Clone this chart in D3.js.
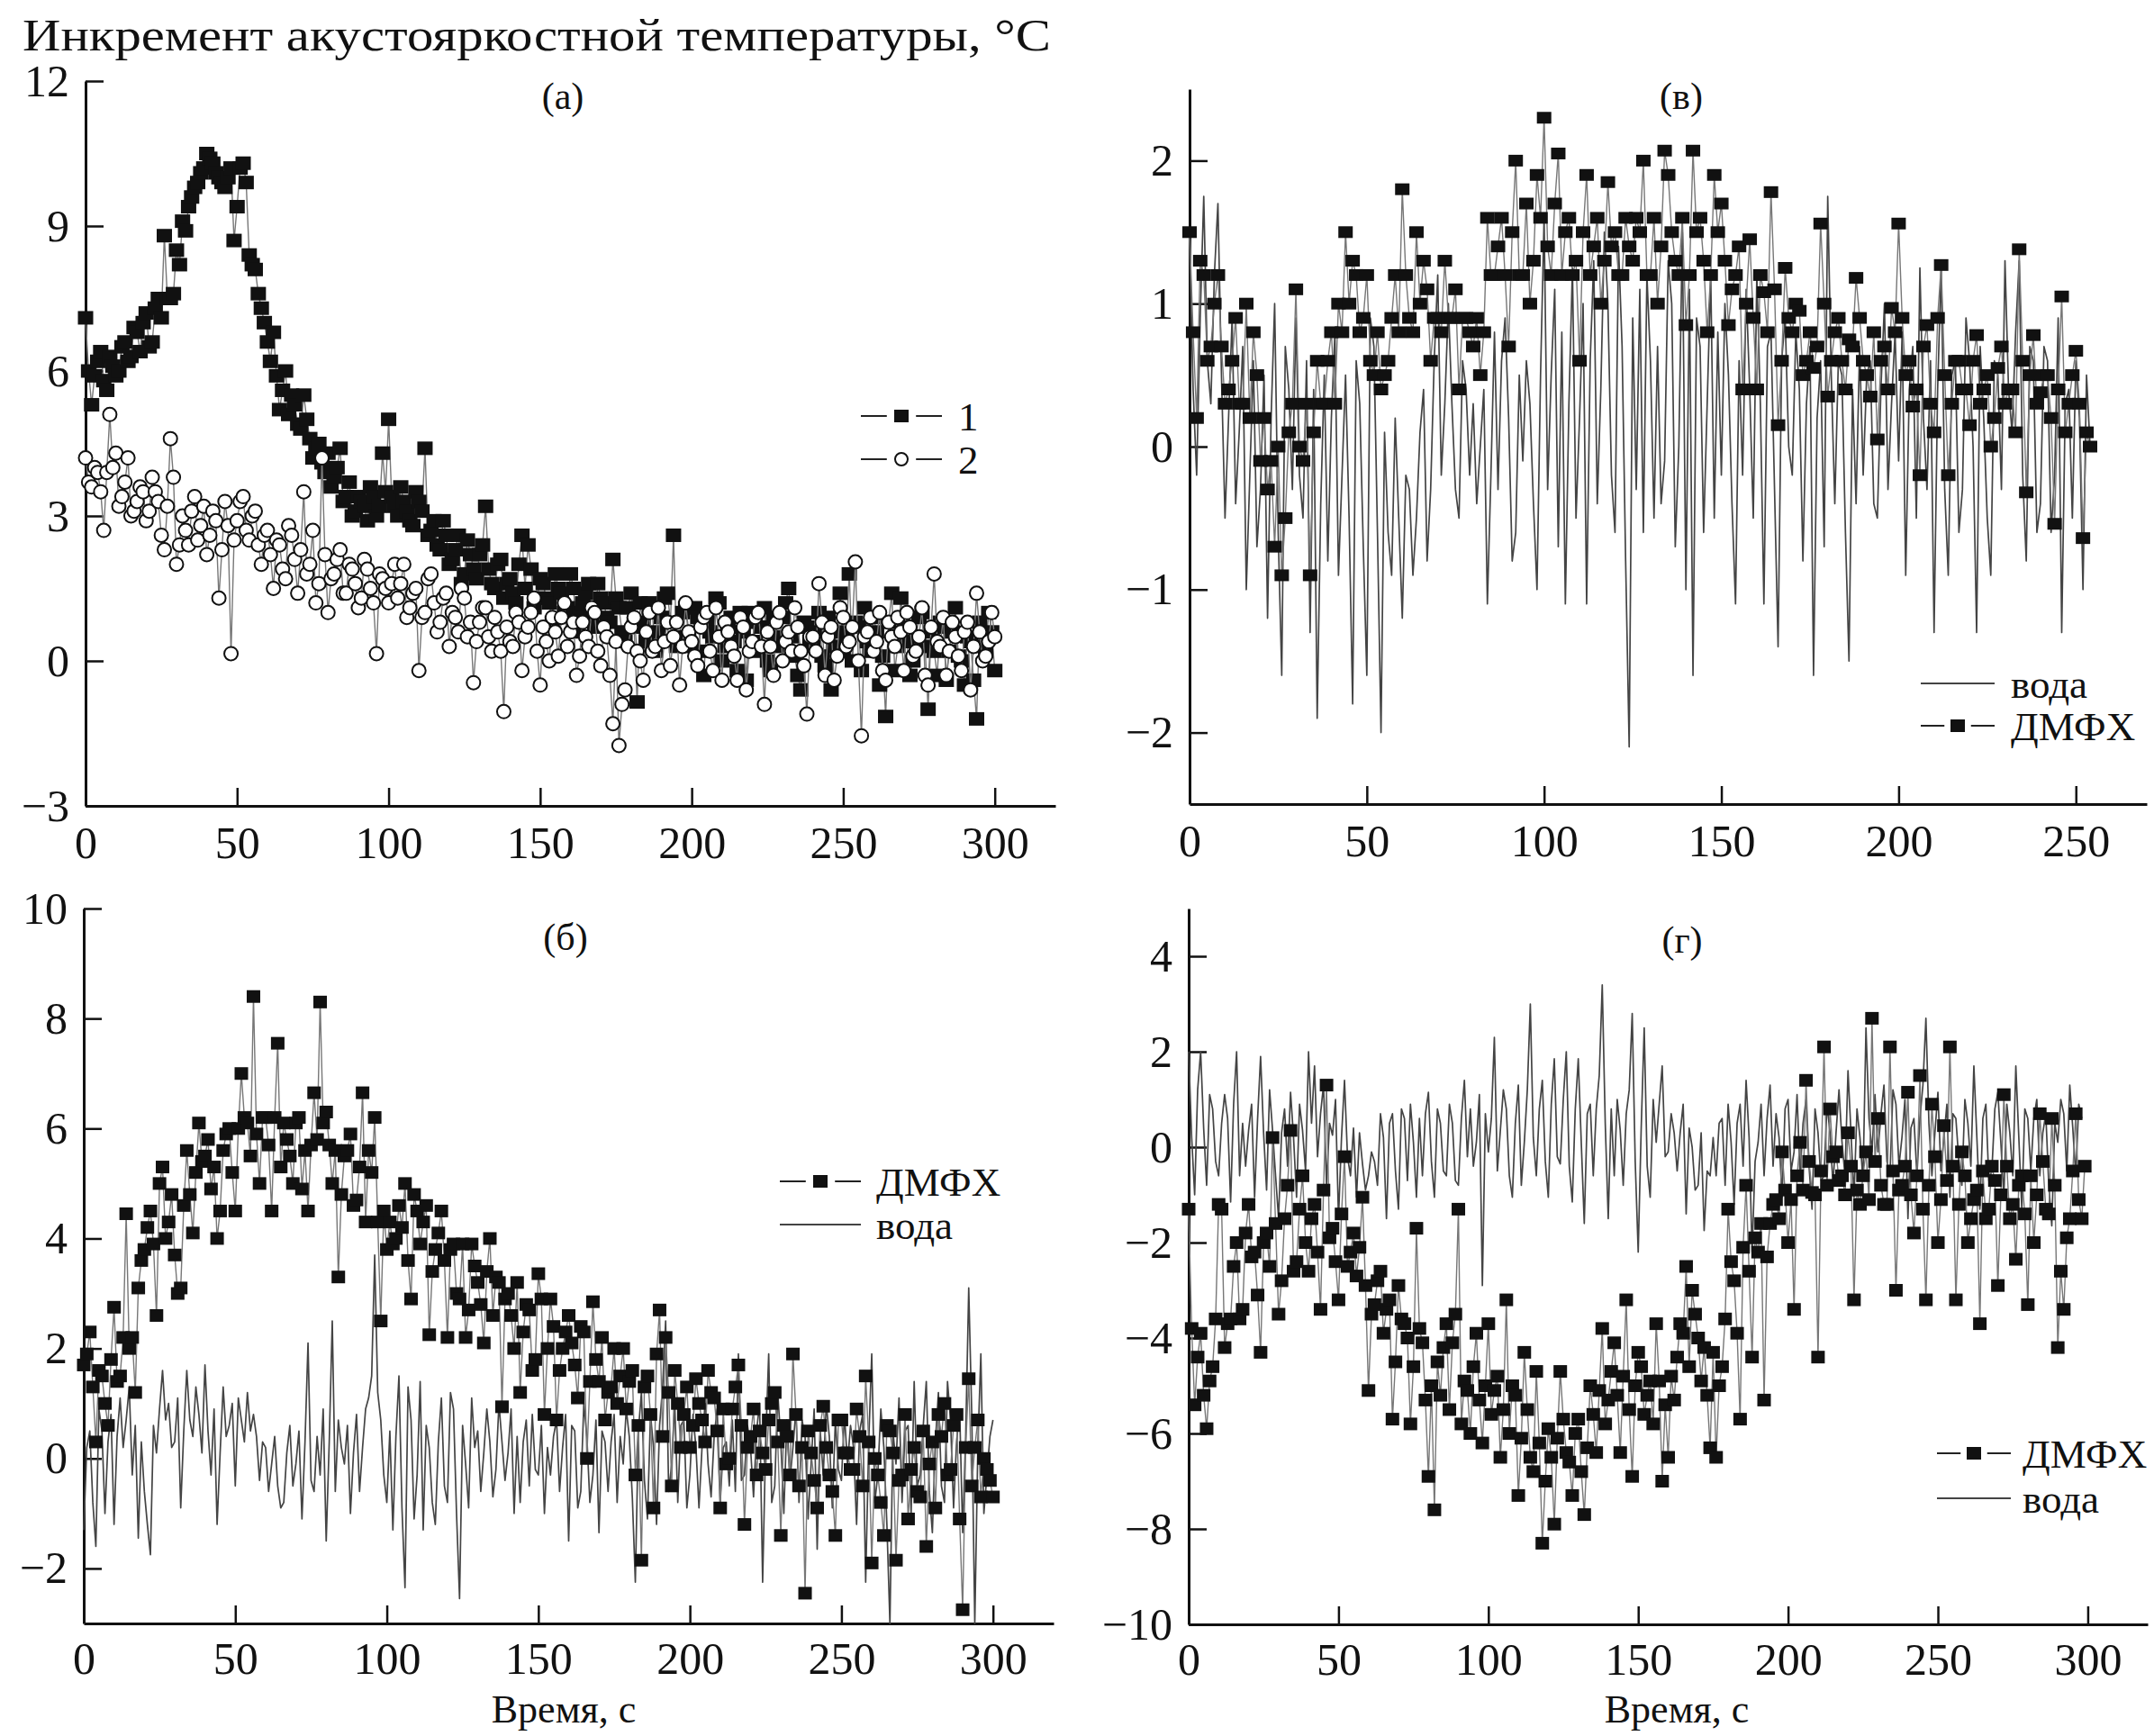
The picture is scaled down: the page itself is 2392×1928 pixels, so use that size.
<!DOCTYPE html>
<html lang="ru">
<head>
<meta charset="utf-8">
<title>Инкремент акустояркостной температуры</title>
<script src="https://cdn.jsdelivr.net/npm/d3@7"></script>
<style>
  body { margin: 0; background: #fff; }
  svg { display: block; font-family: "Liberation Serif", "DejaVu Serif", serif; }
  .domain { stroke: #111; stroke-width: 3; }
  .tick line { stroke: #111; stroke-width: 2.5; }
  .tick text { font-family: "Liberation Serif", "DejaVu Serif", serif; font-size: 50px; fill: #111; }
</style>
</head>
<body>
<div id="d3-container"></div>
<script>
/* CONSTANTS AND GLOBALS */
const width = 2392,
  height = 1928,
  dt = 2; // series at 2 s steps (even + odd seconds)

/* DATA */
// (а) curve 1, filled squares, even seconds t = 0..300
const aCurve1 = [
  7.1, 5.3, 6.2, 5.8, 6.3, 5.9, 6.5, 6.2, 6.9, 6.4,
  7.2, 6.6, 7.5, 8.8, 7.5, 8.5, 9.1, 9.4, 9.8, 10.1,
  10.5, 10.3, 10.0, 9.8, 10.2, 9.4, 10.3, 8.4, 8.1, 7.3,
  6.6, 6.8, 5.2, 6.0, 5.5, 4.9, 5.5, 4.6, 4.4, 4.1,
  4.3, 3.8, 4.4, 3.4, 3.0, 3.4, 3.2, 3.6, 3.0, 4.3,
  5.0, 3.2, 3.6, 3.1, 2.8, 3.3, 4.4, 2.7, 2.4, 2.9,
  2.0, 2.3, 1.6, 2.5, 1.9, 2.2, 3.2, 1.6, 2.0, 1.3,
  1.7, 1.2, 2.6, 2.4, 1.1, 1.7, 1.3, 0.8, 1.5, 1.0,
  1.8, 0.6, 1.2, 1.6, 0.7, 1.3, 0.9, 2.1, 1.1, 0.4,
  1.4, -0.85, 0.8, 1.2, 0.2, 0.9, 1.4, 2.6, 0.5, 1.1,
  0.3, 0.9, -0.3, 0.6, 1.3, 0.0, 0.7, 0.4, 1.0, -0.4,
  0.8, 0.2, 1.1, -0.2, 0.5, 0.9, 1.5, 0.1, -0.6, 0.7,
  0.3, 1.0, -0.1, -0.6, 0.6, 0.2, 1.8, 0.8, -0.2, 0.4,
  0.9, -0.5, -1.15, 1.4, 0.3, 0.7, -0.3, 0.5, 1.0, -1.0,
  0.2, 0.8, -0.4, 0.6, 0.1, -0.5, 0.4, -1.2, 0.3, 1.0,
  -0.2
];
// (а) curve 1, odd seconds t = 1..299
const aCurve1Odd = [
  6.0, 5.9, 6.4, 5.6, 6.1, 6.0, 6.6, 6.3, 6.8, 7.0,
  6.5, 7.3, 7.1, 7.5, 7.6, 8.2, 8.9, 9.6, 9.9, 10.2,
  10.4, 10.1, 9.9, 10.0, 8.7, 10.2, 9.9, 8.2, 7.6, 7.0,
  6.2, 5.9, 5.6, 5.1, 5.3, 4.8, 5.0, 4.2, 4.5, 3.9,
  3.6, 4.0, 3.3, 3.7, 3.1, 3.3, 2.9, 3.4, 3.2, 3.5,
  3.4, 3.0, 3.3, 2.9, 3.5, 3.1, 2.6, 2.9, 2.3, 2.6,
  2.1, 2.6, 1.8, 2.2, 1.7, 2.4, 1.9, 1.5, 2.1, 1.6,
  1.4, 2.0, 1.5, 1.9, 1.3, 1.6, 1.2, 1.8, 1.4, 1.1,
  1.5, 1.0, 1.4, 0.9, 1.6, 1.2, 0.8, 1.3, 0.6, 1.1,
  0.7, 1.2, 0.4, 1.0, 0.6, 1.3, 0.8, 0.3, 1.0, 0.5,
  1.1, 0.2, 0.8, 0.5, 1.2, 0.3, 0.9, -0.2, 0.6, 1.0,
  0.4, 0.7, 0.0, 0.9, 0.3, 1.2, 0.5, -0.3, 0.8, 0.4,
  0.6, 0.1, 0.9, 0.3, 1.4, 0.5, 0.0, 0.7, 1.1, 0.2,
  0.6, 0.1, 0.8, -0.2, 1.3, 0.4, 0.0, 0.9, 0.3, 0.6,
  -0.3, 0.7, 0.2, 1.1, 0.0, 0.5, -0.4, 0.8, 0.2, 0.6
];
// (а) curve 2, open circles, even seconds t = 0..300
const aCurve2 = [
  4.2, 3.6, 3.9, 2.7, 5.1, 4.3, 3.4, 4.2, 3.1, 3.6,
  2.9, 3.8, 3.3, 2.3, 4.6, 2.0, 3.0, 2.4, 3.4, 2.8,
  2.2, 3.1, 1.3, 3.3, 0.15, 2.9, 3.4, 2.5, 3.1, 2.0,
  2.7, 1.5, 2.4, 1.7, 2.6, 1.4, 3.5, 2.0, 1.2, 4.2,
  1.0, 1.8, 2.3, 1.4, 1.9, 1.1, 2.1, 1.5, 0.15, 1.7,
  1.2, 2.0, 1.6, 0.9, 1.4, -0.2, 1.0, 1.8, 0.6, 1.3,
  0.3, 0.9, 1.5, 0.5, -0.45, 0.8, 1.1, 0.2, 0.6, -1.05,
  0.4, 1.0, -0.2, 0.7, 1.3, -0.5, 0.4, 0.9, 0.1, 1.2,
  0.6, -0.3, 0.8, 0.3, 1.0, -0.1, 0.5, -1.3, -1.75, -0.6,
  0.7, 0.2, -0.4, 1.0, 0.3, -0.2, 0.8, 0.5, -0.5, 1.2,
  0.4, -0.1, 0.9, 0.2, 1.1, -0.4, 0.6, 0.1, 0.9, -0.6,
  0.4, 1.0, -0.9, 0.3, 0.8, 0.0, 0.6, 1.1, 0.2, -1.1,
  0.5, 1.6, -0.3, 0.7, 0.1, 0.9, 0.4, 2.05, -1.55, 0.6,
  0.2, 1.0, -0.4, 0.5, 0.9, -0.2, 0.7, 0.2, 1.1, -0.5,
  1.8, 0.3, -0.3, 0.8, 0.1, 0.6, -0.6, 1.4, 0.0, 0.4,
  0.5
];
// (а) curve 2, odd seconds t = 1..299
const aCurve2Odd = [
  3.7, 4.0, 3.5, 3.9, 4.0, 3.2, 3.7, 3.0, 3.3, 3.5,
  3.1, 3.5, 2.6, 3.2, 3.8, 2.4, 2.7, 3.1, 2.5, 3.2,
  2.6, 2.9, 2.3, 2.8, 2.5, 3.3, 2.7, 3.0, 2.4, 2.6,
  2.2, 2.5, 1.9, 2.8, 2.1, 2.3, 1.8, 2.7, 1.6, 2.2,
  1.7, 2.1, 1.4, 2.0, 1.6, 1.3, 1.9, 1.2, 1.8, 1.5,
  1.6, 1.3, 2.0, 1.1, 1.5, 0.9, 1.7, 1.2, 0.8, 1.4,
  1.0, 0.6, 1.3, 0.8, 0.4, 1.1, 0.5, 0.9, 0.2, 0.7,
  0.3, 0.8, 0.5, 1.0, 0.2, 0.7, 0.0, 0.6, 0.9, 0.3,
  0.8, 0.1, 0.5, 1.1, 0.2, 0.7, -0.3, 0.4, -0.9, 0.3,
  0.9, 0.0, 0.6, 0.2, 1.1, 0.4, -0.1, 0.8, 0.3, 0.6,
  0.1, 0.7, 1.0, -0.2, 0.5, 0.8, 0.3, -0.4, 0.7, 0.2,
  0.9, 0.3, 0.6, -0.3, 1.0, 0.4, 0.2, 0.7, -0.1, 0.5,
  0.2, 0.8, 0.5, -0.4, 1.1, 0.3, 0.7, 0.0, 0.5, 0.9,
  0.4, -0.2, 0.8, 0.3, 0.6, 1.0, 0.1, 0.5, -0.3, 0.7,
  0.4, 0.9, 0.2, 0.5, -0.2, 0.8, 0.3, 0.6, 0.1, 1.0
];
// (б) ДМФХ, even seconds t = 0..300
const bDmfx = [
  1.7, 2.3, 0.3, 1.5, 0.6, 2.75, 1.5, 4.45, 2.2, 3.1,
  3.8, 4.5, 2.6, 5.3, 4.3, 3.7, 3.1, 5.6, 4.1, 6.1,
  5.5, 4.9, 4.0, 5.6, 6.0, 4.5, 7.0, 6.1, 8.4, 5.0,
  6.2, 4.5, 7.55, 6.1, 5.5, 6.1, 4.9, 4.5, 6.65, 8.3,
  6.3, 5.0, 3.3, 5.5, 5.9, 4.7, 6.65, 5.6, 6.2, 2.5,
  3.8, 3.9, 4.6, 5.0, 2.9, 4.5, 4.3, 2.25, 3.8, 4.5,
  2.2, 3.9, 2.9, 2.2, 3.9, 3.2, 2.1, 4.0, 3.3, 0.94,
  3.0, 2.0, 1.2, 2.8, 1.6, 3.36, 0.8, 2.9, 0.7, 2.0,
  2.6, 1.7, 2.4, 0.0, 2.85, 1.4, 0.7, 1.3, 1.0, 2.0,
  1.4, -0.3, -1.85, 1.5, -0.9, 2.7, 2.2, -0.5, 1.0, 0.8,
  0.2, 1.45, 0.7, 1.6, 1.1, -0.9, -0.1, 0.9, 1.7, -1.2,
  0.4, -0.3, 0.1, 0.7, 1.2, -1.4, 0.4, 1.9, -0.5, -2.45,
  0.1, -0.9, 0.95, -0.3, -1.4, 0.7, 0.1, -0.2, 0.4, 1.5,
  -1.9, -0.3, -1.4, 0.5, -1.85, -0.3, -1.1, 0.2, -0.7, -1.6,
  0.3, 0.8, 1.0, -0.2, 0.8, -2.75, 1.45, 0.2, -0.7, -0.2,
  -0.7
];
// (б) ДМФХ, odd seconds t = 1..299
const bDmfxOdd = [
  1.9, 1.3, 1.6, 1.0, 1.8, 1.4, 2.2, 2.0, 1.2, 3.6,
  4.2, 3.9, 5.0, 4.0, 4.8, 3.0, 4.6, 4.8, 5.2, 5.4,
  5.8, 5.3, 4.5, 5.9, 5.2, 6.0, 6.2, 5.5, 5.9, 6.2,
  5.7, 6.2, 5.3, 5.8, 5.0, 6.2, 5.6, 5.7, 5.8, 6.1,
  5.7, 5.6, 4.8, 5.6, 4.6, 5.3, 4.3, 5.2, 4.3, 4.5,
  4.3, 4.0, 4.2, 3.6, 4.8, 3.9, 4.6, 3.4, 4.1, 3.6,
  3.8, 3.0, 3.9, 2.7, 3.5, 2.8, 3.4, 2.6, 3.2, 2.9,
  2.6, 3.2, 2.3, 2.7, 1.8, 2.9, 2.0, 2.4, 1.6, 2.3,
  2.1, 1.1, 2.3, 1.4, 1.8, 2.2, 1.2, 2.0, 1.5, 0.9,
  1.6, 0.6, 1.3, 0.8, 1.9, 0.4, 1.2, 1.6, 0.2, 1.3,
  0.6, 1.0, 0.3, 1.2, 0.5, 0.9, 0.0, 1.3, 0.6, 0.2,
  0.9, 0.5, -0.2, 1.0, 0.3, 0.6, -0.3, 0.8, 0.2, 0.5,
  -0.4, 0.6, 0.2, -0.6, 0.7, 0.1, -0.2, 0.9, -0.5, 0.3,
  0.0, -0.8, 0.6, 0.1, -0.4, 0.8, -0.2, -0.6, 0.5, -0.1,
  -0.9, 0.4, -0.3, 0.6, -1.1, 0.2, -0.5, 0.7, 0.0, -0.4
];
// (б) вода, even seconds t = 0..300
const bWater = [
  -1.3, 0.5, -1.6, 0.5, 0.3, -1.2, 1.1, 0.7, -0.3, -1.45,
  -0.6, -1.75, 0.1, 1.6, 1.0, 0.3, -0.9, 1.6, 0.4, 0.8,
  1.7, -0.3, -1.2, 1.3, 0.6, -0.5, 0.7, 1.2, 0.8, -0.4,
  0.2, -0.1, -0.5, -0.8, 0.6, -0.1, -1.1, 2.1, -0.6, -0.3,
  -1.5, 2.5, 0.7, -0.1, -1.0, 0.8, 0.2, 1.1, 3.7, 0.7,
  -0.8, -1.3, 1.5, -2.35, 0.7, -0.3, -1.3, 0.2, -1.2, 1.1,
  -0.8, 0.9, -2.55, -0.1, 1.1, 0.5, 0.1, 0.3, -0.2, 0.3,
  0.1, -1.0, -0.8, 0.7, 0.8, -0.3, -1.0, -0.3, 0.7, 0.2,
  -1.5, 0.5, -0.6, 0.4, -0.3, -1.35, 0.3, 0.3, -0.8, -0.1,
  0.4, -2.25, 1.2, -1.1, 0.2, 0.6, 2.5, -0.1, -0.8, 0.7,
  -0.3, 0.2, 0.2, -0.1, 0.4, -0.8, 0.3, 0.7, 1.9, -0.3,
  0.2, 0.5, -2.25, 1.9, -0.5, 0.3, 0.7, 0.2, -0.8, 0.4,
  -0.1, -1.65, -0.3, 0.4, 0.7, -0.4, -0.1, 0.2, 0.5, -2.25,
  1.9, -0.3, 0.2, -3.0, -0.1, -0.8, 0.6, 1.4, -0.3, 1.4,
  -1.35, 1.2, -0.8, 0.7, 0.3, -1.35, 3.1, -3.0, 1.9, -0.3,
  0.7
];
// (б) вода, odd seconds t = 1..299
const bWaterOdd = [
  0.2, -0.8, 0.9, -1.0, 0.8, 0.4, 0.2, 1.3, 0.6, 0.3,
  -1.2, 0.6, 0.9, 0.7, 0.2, 1.1, 0.5, 0.7, 1.3, 0.1,
  0.5, 0.9, 0.1, 0.4, 1.0, 1.1, 0.3, 0.5, 0.4, 0.3,
  -0.6, 0.4, -0.9, 0.1, -0.5, 0.5, 0.3, -0.4, 0.4, 0.9,
  0.3, -0.6, 0.2, 0.6, 0.1, -0.6, 0.9, 1.5, 1.2, -0.3,
  0.5, 0.4, -0.9, 1.3, -1.1, 1.4, 0.6, -0.8, 0.3, -0.5,
  1.2, -1.0, 0.6, -0.9, 0.2, -0.6, 0.9, -0.7, 1.0, -0.4,
  0.9, 0.4, 0.3, -0.5, -0.2, 0.6, 0.2, 0.4, -0.6, 0.8,
  0.6, -0.9, 1.0, -0.8, 0.7, 0.5, -0.6, 0.8, 0.4, 0.9,
  -0.7, 0.5, -0.4, 0.8, -1.2, 1.3, -0.6, 1.0, 0.6, -0.9,
  0.8, -0.9, 1.0, -0.7, 0.9, 0.2, -0.5, -0.6, -0.4, 0.6,
  -0.7, 1.0, 0.3, -0.8, 1.2, -1.0, -0.4, 0.9, 0.7, -1.1,
  0.9, 0.5, 1.0, -0.9, -0.2, 0.8, 0.6, -1.2, 0.8, 0.3,
  -0.8, 0.9, -1.2, 0.5, 1.1, 0.5, -1.0, -0.5, 0.6, -0.6,
  0.3, -0.5, 1.4, -0.9, 0.9, 0.4, 0.8, 0.2, -1.0, 0.4
];
// (в) ДМФХ, even seconds t = 0..254
const vDmfx = [
  1.5, 0.2, 1.2, 0.7, 1.2, 0.3, 0.6, 0.3, 1.0, 0.8,
  -0.1, -0.3, -0.7, -0.9, 0.1, 1.1, -0.1, -0.9, 0.6, 0.3,
  0.8, 1.0, 1.5, 1.3, 0.8, 1.2, 0.5, 0.4, 0.6, 1.2,
  1.8, 0.9, 1.5, 1.3, 0.6, 0.9, 1.3, 0.9, 0.4, 0.9,
  0.7, 0.5, 1.6, 1.2, 1.6, 0.7, 2.0, 1.2, 1.0, 1.9,
  2.3, 1.2, 2.05, 1.5, 1.2, 0.6, 1.9, 1.4, 1.0, 1.85,
  1.5, 1.2, 1.4, 1.6, 2.0, 1.2, 1.0, 2.07, 1.5, 1.2,
  0.85, 2.07, 1.6, 0.8, 1.9, 1.7, 0.85, 1.2, 0.4, 1.45,
  0.4, 1.08, 1.78, 0.15, 1.25, 0.8, 0.95, 0.6, 0.55, 1.56,
  0.35, 0.8, 0.6, 0.75, 1.18, 0.6, 0.35, 0.05, 0.7, 0.97,
  1.56, 0.5, 0.28, -0.2, 0.85, 0.1, 1.27, -0.2, 0.6, 0.4,
  0.15, 0.78, 0.4, 0.0, 0.55, 0.3, 0.4, 1.38, -0.32, 0.78,
  0.38, 0.5, -0.54, 1.05, 0.3, 0.67, -0.64, 0.0
];
// (в) ДМФХ, odd seconds t = 1..253
const vDmfxOdd = [
  0.8, 1.3, 0.6, 1.0, 0.7, 0.4, 0.9, 0.3, 0.2, 0.5,
  0.2, -0.1, 0.0, -0.5, 0.3, 0.0, 0.3, 0.1, 0.3, 0.6,
  0.3, 0.8, 1.0, 1.2, 0.9, 0.6, 0.8, 0.5, 0.9, 0.8,
  1.2, 0.8, 1.0, 1.1, 0.9, 0.8, 0.9, 1.1, 0.9, 0.8,
  0.9, 0.8, 1.2, 1.4, 1.2, 1.5, 1.2, 1.7, 1.3, 1.6,
  1.4, 1.7, 1.2, 1.6, 1.3, 1.5, 1.2, 1.6, 1.3, 1.4,
  1.2, 1.6, 1.3, 1.5, 1.2, 1.6, 1.4, 1.9, 1.3, 1.6,
  1.2, 1.5, 1.3, 1.2, 1.5, 1.3, 1.1, 1.4, 1.0, 0.9,
  1.2, 0.8, 1.1, 0.6, 0.9, 1.0, 0.5, 0.8, 0.7, 1.0,
  0.6, 0.9, 0.4, 0.7, 0.9, 0.5, 0.8, 0.6, 0.4, 0.8,
  0.9, 0.6, 0.4, 0.7, 0.3, 0.9, 0.5, 0.3, 0.6, 0.4,
  0.6, 0.3, 0.5, 0.2, 0.7, 0.4, 0.1, 0.6, 0.5, 0.3,
  0.5, 0.2, 0.4, 0.1, 0.5, 0.3, 0.1
];
// (в) вода, even seconds t = 0..254
const vWater = [
  1.5, -0.2, 1.75, 0.3, 1.7, -0.5, 0.9, 0.1, -1.0, 0.6,
  -0.3, -1.2, 1.0, -1.6, 0.4, 0.9, -0.5, -1.3, -1.9, 0.5,
  0.2, -0.9, 0.5, -1.8, 0.3, -1.6, 0.7, -2.0, -0.6, 0.2,
  -1.2, -0.3, -0.5, 0.4, -0.3, 1.2, 0.3, 0.3, -0.5, 0.4,
  0.3, 0.0, -1.1, 0.8, 0.6, 0.2, -0.6, -0.1, 0.3, -1.0,
  1.6, 0.5, -0.7, -1.1, 1.25, 0.2, -1.1, 1.3, 0.4, 1.0,
  -0.6, 0.7, -2.1, -0.3, -0.6, 0.6, 0.7, -0.1, 1.0, 0.0,
  -1.0, -1.6, 0.7, 0.3, -0.5, -0.2, 0.5, -1.1, -0.2, 0.4,
  1.2, -1.1, 0.8, -1.4, 0.9, -0.2, 0.4, 0.3, -1.6, 0.6,
  1.75, -0.4, 0.5, -1.5, -0.4, -0.2, 0.6, -0.5, 1.0, 0.3,
  -0.1, -0.9, 0.7, 1.25, -0.3, -1.3, 1.25, -0.9, 0.6, -0.3,
  0.6, -1.3, 0.2, -0.9, 0.5, 1.3, 0.1, 1.3, -0.8, 0.6,
  -0.4, 0.6, -0.2, -1.3, 0.4, 0.6, -1.0, 0.0
];
// (в) вода, odd seconds t = 1..253
const vWaterOdd = [
  0.4, 0.9, 0.6, 1.2, 0.5, 0.2, -0.4, 0.7, -0.2, -0.7,
  0.5, 0.2, -0.6, 0.7, -0.3, -0.2, 0.6, 0.4, -0.4, -0.8,
  0.8, -0.2, -0.5, 0.6, -0.7, 0.9, -0.6, 0.1, -0.9, -0.5,
  -0.2, -0.9, 0.1, -0.8, 0.6, -0.2, 1.0, -0.3, 0.6, -0.2,
  -0.4, 0.4, -0.2, -0.3, 0.9, -0.8, 0.5, 0.6, -0.4, 0.5,
  -0.3, 1.1, 0.8, 0.3, -0.5, 1.0, 0.6, -0.4, 1.5, -0.2,
  1.4, -0.8, 0.9, 1.1, 1.2, -0.5, -0.4, 1.3, -0.7, 1.5,
  1.1, 0.9, -0.6, 1.2, 0.8, 1.0, -0.4, 0.6, 1.1, -0.5,
  0.3, 0.7, -0.3, 0.6, 0.0, 0.8, -0.8, 0.7, 0.2, -0.7,
  0.5, 0.6, -0.6, 0.4, 0.7, 0.5, -0.4, 0.4, -0.3, 0.8,
  0.8, 0.4, -0.5, 0.2, 0.6, 0.4, -0.3, 0.5, -0.6, 0.9,
  0.0, 0.7, -0.5, 0.6, -0.3, 0.4, 0.8, -0.2, 0.7, -0.6,
  0.7, -0.6, 0.9, 0.3, -0.5, 0.2, 0.5
];
// (г) ДМФХ, even seconds t = 0..298
const gDmfx = [
  -1.3, -5.4, -3.9, -5.9, -4.6, -1.2, -4.2, -3.6, -2.0, -3.4,
  -1.2, -2.2, -4.3, -1.8, 0.2, -3.5, -1.5, 0.35, -2.4, -0.6,
  -2.6, -1.2, -3.4, 1.3, -1.7, -3.2, -0.2, -2.2, -2.7, -1.05,
  -5.1, -3.3, -2.6, -3.4, -5.7, -2.9, -3.7, -5.8, -1.7, -4.1,
  -6.9, -7.6, -5.2, -3.7, -4.1, -1.3, -4.9, -6.0, -3.9, -6.2,
  -3.7, -5.1, -6.5, -3.2, -5.0, -7.3, -4.3, -6.5, -4.7, -8.3,
  -5.9, -7.9, -4.7, -6.4, -7.3, -5.7, -7.7, -5.0, -6.4, -3.8,
  -5.3, -4.1, -6.4, -3.2, -6.9, -4.3, -5.6, -4.9, -3.7, -7.0,
  -6.5, -5.3, -3.7, -2.5, -3.0, -4.0, -4.2, -6.3, -6.5, -4.6,
  -1.3, -2.8, -5.7, -0.8, -4.4, -2.2, -5.3, -1.6, -1.1, -0.1,
  -2.0, -3.4, 0.1, 1.4, -0.95, -4.4, 2.1, 0.8, -0.1, -0.6,
  0.3, -3.2, -1.2, -0.1, 2.7, 0.6, -1.2, 2.1, -3.0, -0.8,
  1.15, -1.8, 1.5, -3.2, 0.9, -2.0, 0.45, 2.1, -3.2, -0.1,
  -2.0, -1.1, -3.7, -1.5, -0.4, -2.9, 1.1, -1.5, -2.35, -0.6,
  -3.3, -2.0, 0.7, -1.3, 0.6, -4.2, -3.4, -1.5, 0.7, -1.5
];
// (г) ДМФХ, odd seconds t = 1..299
const gDmfxOdd = [
  -3.8, -4.4, -5.2, -4.9, -3.6, -1.3, -3.7, -2.5, -3.6, -1.8,
  -2.3, -3.1, -2.0, -2.5, -1.6, -2.8, -0.8, -2.6, -1.3, -2.0,
  -1.5, -2.2, -0.9, -1.9, -2.4, -1.4, -2.5, -1.8, -2.1, -2.9,
  -3.5, -2.8, -3.9, -3.2, -4.5, -3.6, -4.0, -4.6, -3.8, -5.3,
  -5.0, -4.5, -4.2, -5.5, -3.5, -5.8, -5.1, -4.6, -5.3, -5.0,
  -5.6, -4.8, -5.5, -6.0, -5.2, -6.1, -5.5, -6.8, -6.2, -7.0,
  -6.5, -6.1, -5.7, -6.6, -6.0, -6.8, -6.3, -5.6, -5.1, -5.8,
  -4.7, -5.2, -4.8, -5.5, -5.0, -4.6, -5.2, -5.8, -4.9, -5.4,
  -4.8, -4.4, -3.9, -4.6, -3.5, -4.9, -5.2, -4.3, -5.0, -3.6,
  -2.4, -3.9, -2.1, -2.6, -1.9, -1.6, -2.3, -1.2, -1.5, -0.9,
  -1.1, -0.6, -0.9, -0.3, -1.0, -0.5, -0.8, -0.2, -0.7, -1.0,
  -0.4, -0.9, -0.6, -1.1, -0.3, -0.8, -1.2, -0.5, -0.9, -0.4,
  -1.0, -0.6, -1.3, -0.8, -0.2, -1.1, -0.7, -0.4, -1.2, -0.6,
  -1.5, -0.9, -0.5, -1.3, -0.7, -1.0, -0.4, -1.2, -0.8, -1.4,
  -0.6, -1.0, -0.3, -1.4, -0.8, -2.6, -1.9, -0.5, -1.1, -0.4
];
// (г) вода, even seconds t = 0..298
const gWater = [
  2.0, -1.0, 2.0, -0.8, 0.8, -0.6, 1.1, -1.15, 2.0, 0.5,
  0.35, -1.05, 1.9, -0.9, 0.35, -1.5, 0.8, 1.15, -1.05, 0.35,
  2.0, 1.7, 0.7, -0.8, 0.25, -1.5, 1.4, -0.6, -1.05, -0.35,
  -0.6, -0.3, 0.7, -1.5, 0.7, -1.3, 0.6, 0.9, -1.05, -0.6,
  1.15, -1.05, 0.5, -0.6, 0.5, -0.8, 1.4, 0.8, 0.1, -2.9,
  -0.1, 2.3, 0.35, 0.8, -1.05, 1.3, 0.1, 3.0, -0.6, 1.4,
  -1.05, 1.85, -0.35, 2.0, -1.15, 1.85, -1.6, 0.9, 0.8, 3.4,
  -1.5, -0.6, 0.35, 0.7, 2.8, -2.2, 2.5, -1.05, 0.1, 1.7,
  -0.1, 0.3, 0.3, -1.4, 0.0, -0.8, -1.75, -0.6, -0.6, 0.6,
  0.9, -1.2, 0.9, 1.4, -2.2, 0.1, -0.6, 1.3, 0.7, -1.05,
  1.0, -0.1, -0.6, 1.0, -1.3, 0.3, -0.6, 0.3, 0.3, 0.1,
  1.6, -1.05, 0.2, 2.5, -0.1, -0.1, 1.3, -0.6, 0.9, 0.2,
  -1.5, 0.6, 0.6, 2.7, -0.6, 1.15, 0.2, -1.05, 0.6, -0.8,
  0.5, 1.7, -1.3, 0.9, -0.5, 1.15, -1.05, 0.3, 1.7, -1.3,
  0.6, 0.6, -0.6, 0.7, -1.65, 0.1, 0.7, 1.3, -0.6, 0.6
];
// (г) вода, odd seconds t = 1..297
const gWaterOdd = [
  0.2, 1.2, 0.4, 1.1, -0.3, 0.5, 0.6, 0.9, -0.6, -0.4,
  0.9, 0.6, 0.3, 1.2, -0.6, 0.3, -0.4, 0.2, 0.9, -0.5,
  0.5, -0.2, 1.3, 0.5, 1.0, 0.2, -0.2, 0.4, 0.3, -0.9,
  -0.1, -0.8, 0.2, 0.5, -0.5, 0.8, -0.7, 0.1, 0.6, 0.7,
  -0.3, 0.8, -0.5, 0.9, -0.7, 0.6, -0.2, -0.4, 1.1, 0.7,
  0.6, -0.5, 1.2, -0.6, 0.5, -0.8, 1.2, 0.2, 0.8, -0.3,
  0.9, -0.2, 1.0, -0.4, 0.8, 0.1, 0.7, -0.6, 1.5, 0.5,
  0.8, 1.0, -0.8, 1.2, -0.3, 0.4, -0.4, 1.0, 0.9, -0.2,
  0.7, -0.5, 0.9, 0.4, -0.9, 0.3, -0.5, 0.2, 0.5, -0.8,
  0.1, 0.5, -0.4, 0.2, -0.3, 0.9, 0.6, -0.4, 0.2, 0.8,
  -0.5, 1.1, 0.5, -0.4, 0.8, -0.7, 0.9, -0.8, 1.2, -0.6,
  0.3, 0.8, -0.7, 0.6, 1.1, 0.7, -0.3, 1.2, -0.4, 1.0,
  0.4, -0.6, 1.3, 0.5, 0.3, -0.5, 0.9, 0.7, -0.3, 1.0,
  -0.4, 0.2, 0.6, -0.7, 0.8, 0.1, 0.9, -0.6, 0.2, 0.8,
  -0.5, 1.0, 0.3, -0.8, 0.5, 1.0, -0.5, 0.4, 0.9
];

// tick labels
const xTicks300 = [0, 50, 100, 150, 200, 250, 300];
const xTicks250 = [0, 50, 100, 150, 200, 250];
const yTicksA = [-3, 0, 3, 6, 9, 12];
const yTicksB = [-2, 0, 2, 4, 6, 8, 10];
const yTicksV = [-2, -1, 0, 1, 2];
const yTicksG = [-10, -8, -6, -4, -2, 0, 2, 4];

// texts
const titleText = "Инкремент акустояркостной температуры, °C";
const xTitle = "Время, с";
const nameDmfx = "ДМФХ";
const nameWater = "вода";

/* LAYOUT */
const panels = [
  {
    label: "(а)", labelAt: [625, 121],
    xDomain: [0, 320], xRange: [95, 1172], yDomain: [-3, 12], yRange: [895, 90],
    xTicks: xTicks300, yTicks: yTicksA, xPad: 22, sq: [17, 15],
    series: [
      { values: aCurve1, odd: aCurve1Odd, type: "square" },
      { values: aCurve2, odd: aCurve2Odd, type: "circle" }],
    legend: { x: 956, textX: 1064, len: 90, rows: [
      { y: 462, type: "square", text: "1" },
      { y: 510, type: "circle", text: "2" }] }
  },
  {
    label: "(в)", labelAt: [1867, 121],
    xDomain: [0, 270], xRange: [1321, 2384], yDomain: [-2.5, 2.5], yRange: [893, 99],
    xTicks: xTicks250, yTicks: yTicksV, xPad: 22, sq: [16, 13],
    series: [
      { values: vWater, odd: vWaterOdd, type: "water" },
      { values: vDmfx, odd: vDmfxOdd, type: "square" }],
    legend: { x: 2133, textX: 2233, len: 82, rows: [
      { y: 759, type: "water", text: nameWater },
      { y: 806, type: "square", text: nameDmfx }] }
  },
  {
    label: "(б)", labelAt: [628, 1055],
    xDomain: [0, 320], xRange: [93, 1170], yDomain: [-3, 10], yRange: [1803, 1009],
    xTicks: xTicks300, yTicks: yTicksB, xPad: 20, xTitleAt: [626, 1913], sq: [15, 14],
    series: [
      { values: bWater, odd: bWaterOdd, type: "water" },
      { values: bDmfx, odd: bDmfxOdd, type: "square" }],
    legend: { x: 866, textX: 973, len: 90, rows: [
      { y: 1312, type: "square", text: nameDmfx },
      { y: 1360, type: "water", text: nameWater }] }
  },
  {
    label: "(г)", labelAt: [1868, 1058],
    xDomain: [0, 320], xRange: [1320, 2385], yDomain: [-10, 5], yRange: [1804, 1009],
    xTicks: xTicks300, yTicks: yTicksG, xPad: 20, xTitleAt: [1862, 1913], sq: [15, 14],
    series: [
      { values: gWater, odd: gWaterOdd, type: "water" },
      { values: gDmfx, odd: gDmfxOdd, type: "square" }],
    legend: { x: 2151, textX: 2246, len: 82, rows: [
      { y: 1614, type: "square", text: nameDmfx },
      { y: 1664, type: "water", text: nameWater }] }
  }
];

/* CREATE SVG ELEMENT */
const svg = d3.select("#d3-container")
  .append("svg")
  .attr("width", width)
  .attr("height", height);

svg.append("rect").attr("width", width).attr("height", height).attr("fill", "#fff");

// figure title (y axis name shared by all panels)
svg.append("text")
  .attr("x", 25)
  .attr("y", 56)
  .attr("font-size", 50)
  .attr("textLength", 1142)
  .attr("lengthAdjust", "spacingAndGlyphs")
  .attr("fill", "#111")
  .text(titleText);

panels.forEach(drawPanel);

/* DRAW FUNCTIONS */
function drawPanel(p) {
  const xScale = d3.scaleLinear().domain(p.xDomain).range(p.xRange);
  const yScale = d3.scaleLinear().domain(p.yDomain).range(p.yRange);
  const g = svg.append("g");

  // + AXES (ticks point inside the plot)
  g.append("g")
    .attr("transform", `translate(0, ${p.yRange[0]})`)
    .call(d3.axisBottom(xScale).tickValues(p.xTicks).tickFormat(d3.format("d"))
      .tickSize(-20).tickSizeOuter(0).tickPadding(p.xPad));

  g.append("g")
    .attr("transform", `translate(${p.xRange[0]}, 0)`)
    .call(d3.axisLeft(yScale).tickValues(p.yTicks).tickFormat(d3.format("d"))
      .tickSize(-20).tickSizeOuter(0).tickPadding(18));

  // + SERIES
  p.series.forEach(s => drawSeries(g, xScale, yScale, s, p.sq));

  // panel letter
  g.append("text")
    .attr("x", p.labelAt[0])
    .attr("y", p.labelAt[1])
    .attr("text-anchor", "middle")
    .attr("font-size", 42)
    .attr("fill", "#111")
    .text(p.label);

  if (p.xTitleAt) {
    g.append("text")
      .attr("x", p.xTitleAt[0])
      .attr("y", p.xTitleAt[1])
      .attr("text-anchor", "middle")
      .attr("font-size", 44)
      .attr("fill", "#111")
      .text(xTitle);
  }

  drawLegend(g, p.legend);
}

// even-second readings plus the odd-second ones, in time order
function toPoints(s) {
  const pts = s.values.map((v, i) => ({ t: i * dt, v: v }));
  if (s.odd) s.odd.forEach((v, i) => pts.push({ t: i * dt + 1, v: v }));
  return pts.sort((a, b) => a.t - b.t);
}

function drawSeries(g, x, y, s, sq) {
  const pts = toPoints(s);
  const line = d3.line().x(d => x(d.t)).y(d => y(d.v));

  g.append("path")
    .datum(pts)
    .attr("d", line)
    .attr("fill", "none")
    .attr("stroke", s.type === "water" ? "#444" : "#777")
    .attr("stroke-width", s.type === "water" ? 1.7 : 1.4)
    .attr("stroke-linejoin", "round");

  if (s.type === "square") {
    g.selectAll(null)
      .data(pts)
      .join("rect")
      .attr("x", d => x(d.t) - sq[0] / 2)
      .attr("y", d => y(d.v) - sq[1] / 2)
      .attr("width", sq[0])
      .attr("height", sq[1])
      .attr("fill", "#111");
  } else if (s.type === "circle") {
    g.selectAll(null)
      .data(pts)
      .join("circle")
      .attr("cx", d => x(d.t))
      .attr("cy", d => y(d.v))
      .attr("r", 7.5)
      .attr("fill", "#fff")
      .attr("stroke", "#111")
      .attr("stroke-width", 2);
  }
}

function drawLegend(g, lg) {
  lg.rows.forEach(r => {
    const mid = lg.x + lg.len / 2;
    if (r.type === "water") {
      g.append("line")
        .attr("x1", lg.x).attr("x2", lg.x + lg.len)
        .attr("y1", r.y).attr("y2", r.y)
        .attr("stroke", "#444").attr("stroke-width", 2);
    } else {
      [[lg.x, lg.x + lg.len * 0.32], [lg.x + lg.len * 0.68, lg.x + lg.len]].forEach(seg => {
        g.append("line")
          .attr("x1", seg[0]).attr("x2", seg[1])
          .attr("y1", r.y).attr("y2", r.y)
          .attr("stroke", "#222").attr("stroke-width", 2);
      });
      if (r.type === "square") {
        g.append("rect")
          .attr("x", mid - 8).attr("y", r.y - 7)
          .attr("width", 16).attr("height", 14)
          .attr("fill", "#111");
      } else {
        g.append("circle")
          .attr("cx", mid).attr("cy", r.y).attr("r", 7)
          .attr("fill", "#fff").attr("stroke", "#111").attr("stroke-width", 2);
      }
    }
    g.append("text")
      .attr("x", lg.textX)
      .attr("y", r.y)
      .attr("dy", "0.35em")
      .attr("font-size", 45)
      .attr("fill", "#111")
      .text(r.text);
  });
}
</script>
</body>
</html>
